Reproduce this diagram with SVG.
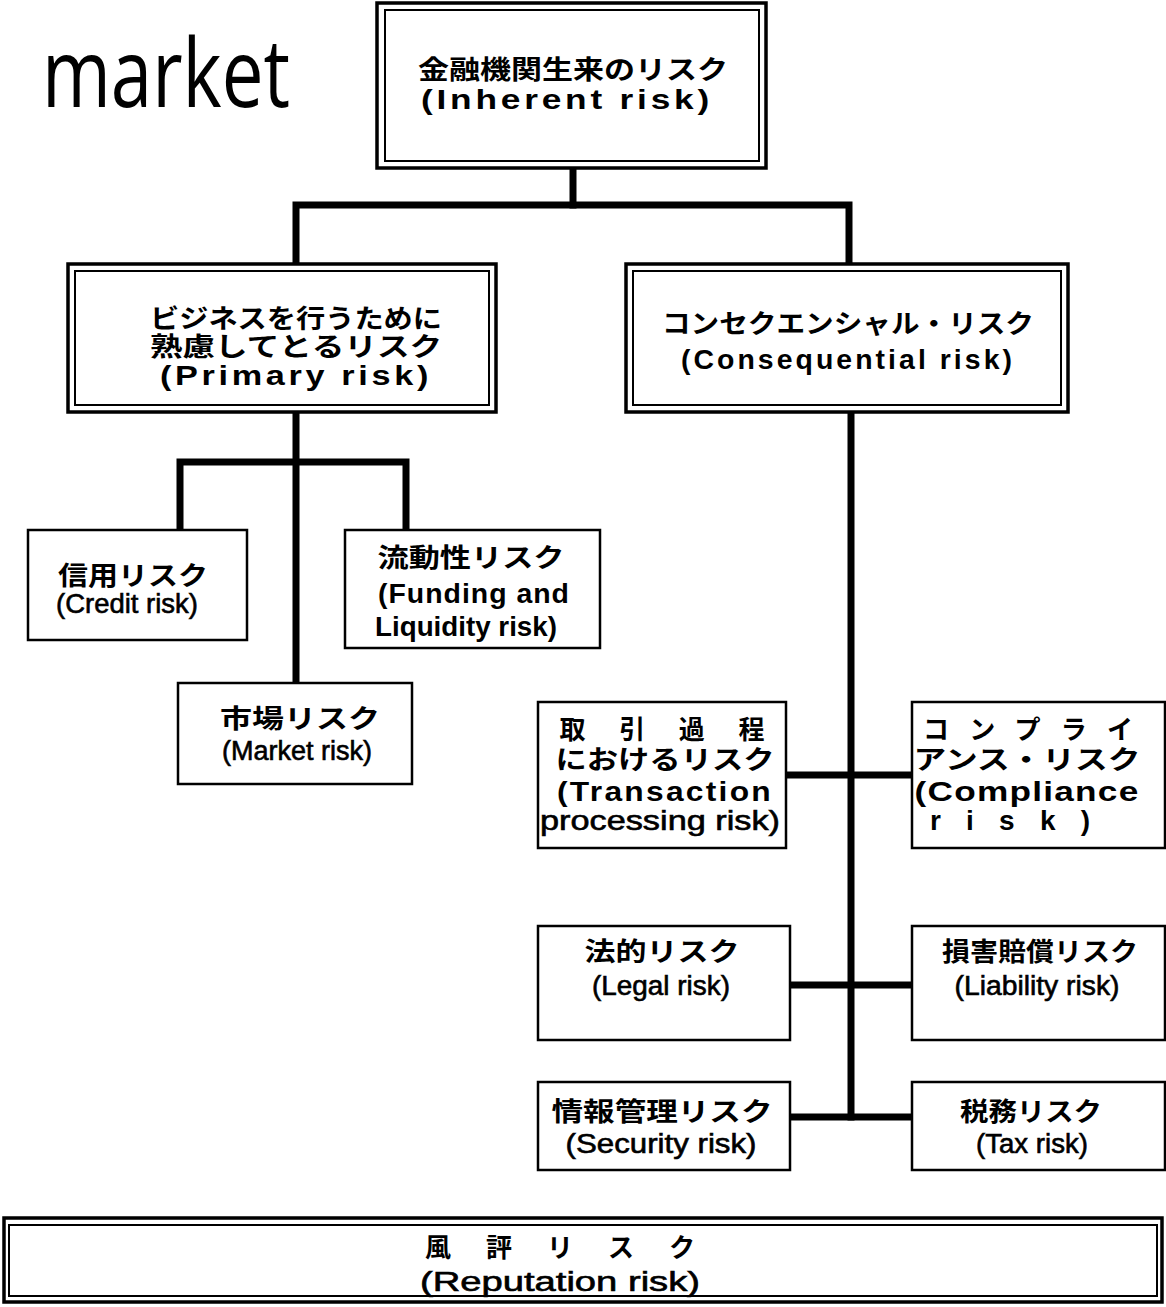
<svg xmlns="http://www.w3.org/2000/svg" width="1166" height="1307" viewBox="0 0 1166 1307">
<style>
.b{fill:#fff;stroke:#000;stroke-width:2.5}
.bo{fill:#fff;stroke:#000;stroke-width:3.5}
.bi{fill:none;stroke:#000;stroke-width:2}
.c{fill:none;stroke:#000;stroke-width:7;stroke-linejoin:miter;stroke-linecap:square}
.j{font-family:"Noto Sans CJK JP","Noto Sans CJK SC",sans-serif;font-weight:bold;font-size:26px;text-anchor:middle;fill:#000}
.e{font-family:"Liberation Sans","Noto Sans",sans-serif;font-weight:bold;font-size:28px;letter-spacing:3px;text-anchor:middle;fill:#000}
.n{font-family:"Liberation Sans",sans-serif;font-size:27px;text-anchor:middle;fill:#000;stroke:#000;stroke-width:0.6}
.t{font-family:"Open Sans","Noto Sans",sans-serif;font-size:96px;fill:#000}
</style>
<rect width="1166" height="1307" fill="#fff"/>
<text class="t" x="42" y="107" textLength="248" lengthAdjust="spacingAndGlyphs">market</text>

<g id="connectors">
<path class="c" d="M573,168 V205"/>
<path class="c" d="M296,262 V205 H849 V262"/>
<path class="c" d="M296,412 V683"/>
<path class="c" d="M180,528 V462 H406 V528"/>
<path class="c" d="M851,412 V1117"/>
<path class="c" d="M786,775 H912"/>
<path class="c" d="M790,985 H912"/>
<path class="c" d="M790,1117 H912"/>
</g>

<g id="inherent">
<rect class="bo" x="377" y="3" width="389" height="165"/>
<rect class="bi" x="385" y="10" width="374" height="151"/>
<text class="j" x="573" y="79" textLength="310" lengthAdjust="spacingAndGlyphs">金融機関生来のリスク</text>
<text class="e" x="567" y="109" textLength="292" lengthAdjust="spacingAndGlyphs">(Inherent risk)</text>
</g>

<g id="primary">
<rect class="bo" x="68" y="264" width="428" height="148"/>
<rect class="bi" x="75" y="271" width="414" height="134"/>
<text class="j" x="296" y="328" textLength="292" lengthAdjust="spacingAndGlyphs">ビジネスを行うために</text>
<text class="j" x="296" y="356" textLength="292" lengthAdjust="spacingAndGlyphs">熟慮してとるリスク</text>
<text class="e" x="296" y="385" textLength="272" lengthAdjust="spacingAndGlyphs">(Primary risk)</text>
</g>

<g id="consequential">
<rect class="bo" x="626" y="264" width="442" height="148"/>
<rect class="bi" x="633" y="271" width="428" height="134"/>
<text class="j" x="848" y="333" textLength="372" lengthAdjust="spacingAndGlyphs">コンセクエンシャル・リスク</text>
<text class="e" x="848" y="369" textLength="334" lengthAdjust="spacingAndGlyphs">(Consequential risk)</text>
</g>

<g id="credit">
<rect class="b" x="28" y="530" width="219" height="110"/>
<text class="j" x="133" y="585" textLength="150" lengthAdjust="spacingAndGlyphs">信用リスク</text>
<text class="n" x="127" y="613" textLength="142" lengthAdjust="spacingAndGlyphs">(Credit risk)</text>
</g>

<g id="liquidity">
<rect class="b" x="345" y="530" width="255" height="118"/>
<text class="j" x="471" y="567" textLength="187" lengthAdjust="spacingAndGlyphs">流動性リスク</text>
<text class="e" x="474" y="603" textLength="192" lengthAdjust="spacingAndGlyphs" style="letter-spacing:1px">(Funding and</text>
<text class="e" x="466" y="636" textLength="182" lengthAdjust="spacingAndGlyphs" style="letter-spacing:0px">Liquidity risk)</text>
</g>

<g id="market">
<rect class="b" x="178" y="683" width="234" height="101"/>
<text class="j" x="300" y="728" textLength="160" lengthAdjust="spacingAndGlyphs">市場リスク</text>
<text class="n" x="297" y="760" textLength="150" lengthAdjust="spacingAndGlyphs">(Market risk)</text>
</g>

<g id="transaction">
<rect class="b" x="538" y="702" width="248" height="146"/>
<text class="j" x="662" y="739" textLength="205" lengthAdjust="spacing">取 引 過 程</text>
<text class="j" x="665" y="769" textLength="219" lengthAdjust="spacingAndGlyphs">におけるリスク</text>
<text class="e" x="665" y="801" textLength="216" lengthAdjust="spacingAndGlyphs" style="letter-spacing:2px">(Transaction</text>
<text class="n" x="660" y="830" textLength="240" lengthAdjust="spacingAndGlyphs">processing risk)</text>
</g>

<g id="compliance">
<rect class="b" x="912" y="702" width="253" height="146"/>
<text class="j" x="1028" y="739" textLength="210" lengthAdjust="spacing">コンプライ</text>
<text class="j" x="1027" y="769" textLength="227" lengthAdjust="spacingAndGlyphs">アンス・リスク</text>
<text class="e" x="1027" y="801" textLength="225" lengthAdjust="spacingAndGlyphs" style="letter-spacing:1px">(Compliance</text>
<text class="e" x="1010" y="830" textLength="160" lengthAdjust="spacing" style="letter-spacing:0px">r i s k  )</text>
</g>

<g id="legal">
<rect class="b" x="538" y="926" width="252" height="114"/>
<text class="j" x="662" y="961" textLength="155" lengthAdjust="spacingAndGlyphs">法的リスク</text>
<text class="n" x="661" y="995" textLength="138" lengthAdjust="spacingAndGlyphs">(Legal risk)</text>
</g>

<g id="liability">
<rect class="b" x="912" y="926" width="253" height="114"/>
<text class="j" x="1040" y="961" textLength="196" lengthAdjust="spacingAndGlyphs">損害賠償リスク</text>
<text class="n" x="1037" y="995" textLength="165" lengthAdjust="spacingAndGlyphs">(Liability risk)</text>
</g>

<g id="security">
<rect class="b" x="538" y="1082" width="252" height="88"/>
<text class="j" x="662" y="1121" textLength="221" lengthAdjust="spacingAndGlyphs">情報管理リスク</text>
<text class="n" x="661" y="1153" textLength="191" lengthAdjust="spacingAndGlyphs">(Security risk)</text>
</g>

<g id="tax">
<rect class="b" x="912" y="1082" width="253" height="88"/>
<text class="j" x="1031" y="1121" textLength="142" lengthAdjust="spacingAndGlyphs">税務リスク</text>
<text class="n" x="1032" y="1153" textLength="112" lengthAdjust="spacingAndGlyphs">(Tax risk)</text>
</g>

<g id="reputation">
<rect class="bo" x="4" y="1218" width="1158" height="84"/>
<rect class="bi" x="9" y="1225" width="1148" height="71"/>
<text class="j" x="560" y="1257" textLength="270" lengthAdjust="spacing">風 評 リ ス ク</text>
<text class="n" x="560" y="1291" textLength="280" lengthAdjust="spacingAndGlyphs">(Reputation risk)</text>
</g>
</svg>
